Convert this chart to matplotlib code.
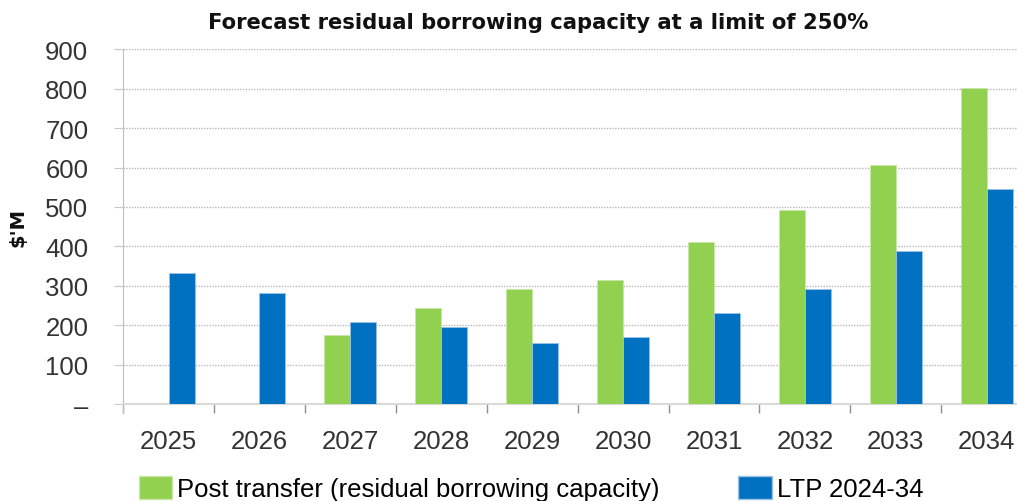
import matplotlib
matplotlib.use("Agg")
import matplotlib.pyplot as plt
from matplotlib.patches import Patch
from matplotlib.ticker import FixedLocator
import numpy as np

# data ($'M)
years = ["2025", "2026", "2027", "2028", "2029", "2030", "2031", "2032", "2033", "2034"]
post_transfer = [np.nan, np.nan, 176, 243, 292, 315, 411, 492, 606, 801]
ltp = [332, 281, 209, 195, 156, 169, 232, 293, 388, 545]
y_ticks = [0, 100, 200, 300, 400, 500, 600, 700, 800, 900]
y_labels = ["–", "100", "200", "300", "400", "500", "600", "700", "800", "900"]

green = "#92D050"
blue = "#0070C0"

plt.rcParams['font.family'] = ['Liberation Sans', 'DejaVu Sans']

fig = plt.figure(figsize=(10.17, 5.02), dpi=100)
ax = fig.add_axes([0.121, 0.193, 0.894, 0.707])

x = np.arange(len(years))
w = 0.286
ax.bar(x - w / 2, post_transfer, width=w, color=green, edgecolor="#c8e6a8", linewidth=0.6, zorder=3)
ax.bar(x + w / 2, ltp, width=w, color=blue, edgecolor="#9cc3e6", linewidth=0.6, zorder=3)

ax.set_xlim(-0.5, len(years) - 0.5)
ax.set_ylim(0, 900)

ax.set_yticks(y_ticks)
ax.set_yticklabels(y_labels, fontsize=18.5, color="#333333")
ax.tick_params(axis="y", length=6.5, color="#c8c8c8", pad=18.5)
ax.yaxis.grid(True, color="#b8b8b8", linestyle=(0, (1, 1)), linewidth=1, zorder=0)

ax.set_xticks(x)
ax.set_xticklabels(years, fontsize=18.5, color="#333333")
ax.tick_params(axis="x", which="major", length=0, pad=18)
ax.xaxis.set_minor_locator(FixedLocator(np.arange(-0.5, len(years), 1.0)))
ax.tick_params(axis="x", which="minor", length=6.5, color="#909090", width=1)

for s in ["top", "right"]:
    ax.spines[s].set_visible(False)
ax.spines["left"].set_color("#bfbfbf")
ax.spines["left"].set_bounds(-23, 900)
ax.spines["bottom"].set_color("#d9d9d9")
ax.spines["bottom"].set_linewidth(1.5)

ax.set_ylabel("$'M", fontsize=14, fontweight="bold", labelpad=13,
              family=["DejaVu Sans"], color="#111111")

fig.text(0.529, 0.954, "Forecast residual borrowing capacity at a limit of 250%",
         ha="center", va="center", fontsize=15.2, fontweight="bold",
         family=["DejaVu Sans"], color="#111111")

handles = [Patch(facecolor=green, edgecolor="#c8e6a8"), Patch(facecolor=blue, edgecolor="#9cc3e6")]
fig.legend(handles, ["Post transfer (residual borrowing capacity)", "LTP 2024-34"],
           loc="upper left", bbox_to_anchor=(0.124, 0.076), ncol=2, frameon=False,
           fontsize=18.5, handlelength=1.3, handleheight=1.0, handletextpad=0.2,
           columnspacing=3.05, borderpad=0)

fig.savefig("out.png", dpi=100)
